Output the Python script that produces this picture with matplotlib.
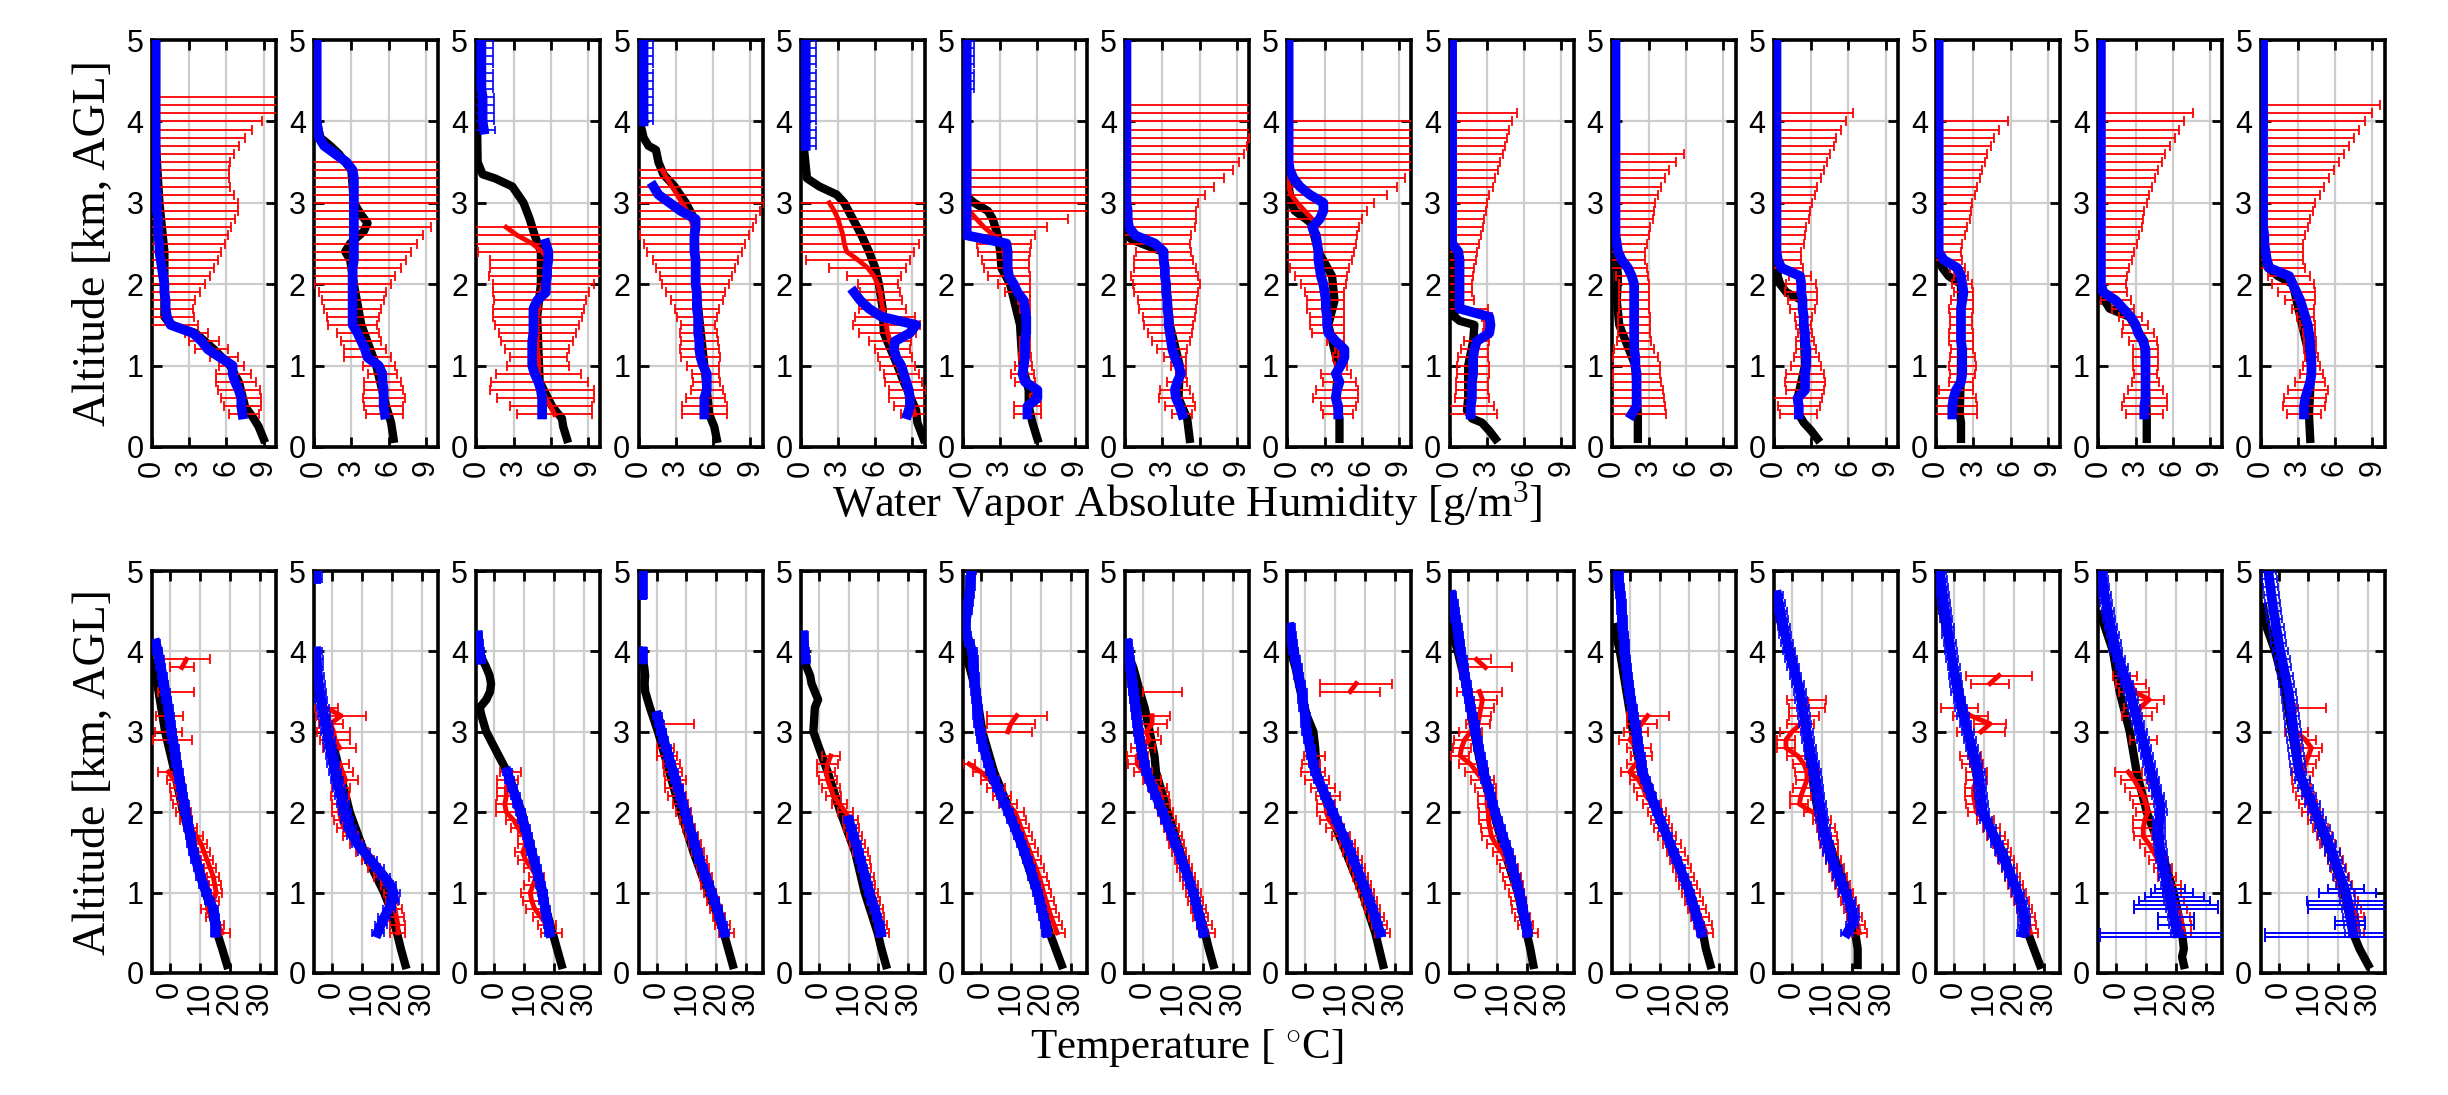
import numpy as np
import matplotlib
matplotlib.use("Agg")
import matplotlib.pyplot as plt

plt.rcParams["font.family"] = ["Liberation Sans", "DejaVu Sans"]
plt.rcParams["mathtext.fontset"] = "custom"
plt.rcParams["mathtext.rm"] = "Liberation Serif"
plt.rcParams["mathtext.it"] = "Liberation Serif:italic"


def nums(s):
    return np.array([float(v) for v in s.split()])


# ---------------- water vapour (top row) ----------------
WV_Z = "0.4 0.5 0.6 0.7 0.8 0.9 1.0 1.1 1.2 1.3 1.4 1.5 1.6 1.7 1.8 1.9 2.0 2.1 2.2 2.3 2.4 2.5 2.6 2.7 2.8 2.9 3.0 3.1 3.2 3.3 3.4 3.5 3.6 3.7 3.8 3.9 4.0 4.1 4.2 4.3 4.4 4.5 4.6 4.7 4.8 4.9 5.0"

# retrieval mean (red), from 0.4 km upward
WV_RED_MEAN = [
    "7.4 7.3 7.2 7.0 6.8 6.6 6.4 5.8 4.8 4.2 3.6 1.8 1.2 1.1 1.0 1.0 1.0 0.9 0.8 0.8 0.7 0.6 0.6 0.5 0.5 0.5 0.4 0.4 0.4 0.3 0.3 0.3 0.3 0.3 0.3 0.3 0.3 0.3 0.3 0.3",
    "5.7 5.6 5.6 5.6 5.5 5.5 5.2 4.3 4.1 3.8 3.5 3.1 3.1 3.1 3.1 3.1 3.1 3.1 3.1 3.2 3.2 3.2 3.2 3.2 3.2 3.2 3.2 3.2 3.2 3.2 3.1 2.6",
    "6.3 6.0 5.6 5.3 5.1 5.0 5.0 5.0 4.9 4.9 4.9 4.9 4.9 5.0 5.1 5.2 5.4 5.6 5.8 5.8 5.3 4.5 3.3 2.4",
    "5.3 5.3 5.4 5.5 5.5 5.4 5.2 5.0 4.9 4.9 4.8 4.8 4.7 4.7 4.7 4.6 4.6 4.6 4.6 4.6 4.5 4.5 4.5 4.4 4.2 3.9 3.5 3.1 2.7 2.3 1.9",
    "9.2 9.0 8.8 8.6 8.3 8.1 7.8 7.6 7.4 7.2 7.0 6.9 6.8 6.6 6.5 6.4 6.2 5.9 5.4 4.6 3.7 3.5 3.4 3.2 3.0 2.7 2.3",
    "5.2 5.2 5.8 5.8 5.0 4.8 4.9 5.0 5.0 5.0 5.1 5.1 5.1 5.0 4.9 4.4 4.1 3.7 3.5 3.4 3.3 3.3 2.5 1.7 1.1 0.5 0.1 0.1 0.1 0.1 0.1",
    "4.6 4.4 4.1 4.0 4.2 4.5 4.3 4.0 3.8 3.7 3.6 3.5 3.5 3.4 3.4 3.3 3.3 3.2 3.2 3.1 3.1 2.4 0.8 0.3 0.2 0.2 0.1 0.1 0.1 0.1 0.1 0.1 0.1 0.1 0.1 0.1 0.1 0.1 0.1",
    "4.1 4.1 3.9 4.0 4.2 3.9 4.3 4.2 4.2 3.9 3.3 3.2 3.2 3.1 3.1 3.0 2.9 2.7 2.6 2.5 2.5 2.4 2.3 2.3 2.0 1.4 0.8 0.3 0.1 0.1 0.1 0.1 0.1 0.1 0.1 0.1 0.1",
    "1.7 1.7 1.8 1.8 1.8 1.9 1.9 1.9 2.0 2.2 3.0 3.1 3.0 0.9 0.8 0.8 0.8 0.8 0.8 0.8 0.7 0.3 0.2 0.2 0.2 0.2 0.2 0.2 0.2 0.2 0.2 0.2 0.2 0.2 0.2 0.2 0.2 0.2",
    "1.6 2.0 2.0 2.0 2.0 2.0 1.9 1.9 1.8 1.8 1.8 1.8 1.8 1.8 1.8 1.8 1.8 1.6 1.3 0.8 0.5 0.4 0.3 0.3 0.3 0.3 0.3 0.3 0.3 0.3 0.3 0.3 0.3",
    "2.0 2.0 1.9 2.5 2.5 2.5 2.6 2.6 2.6 2.5 2.5 2.4 2.4 2.3 2.3 2.2 2.2 2.1 0.6 0.3 0.2 0.2 0.2 0.2 0.2 0.2 0.2 0.2 0.2 0.2 0.2 0.2 0.2 0.2 0.2 0.2 0.2 0.2",
    "1.3 1.3 1.4 1.6 2.0 2.1 2.1 2.1 2.1 2.0 2.0 2.0 2.0 2.0 2.1 2.2 2.1 2.0 1.7 0.4 0.2 0.2 0.2 0.2 0.2 0.2 0.2 0.2 0.2 0.2 0.2 0.2 0.2 0.2 0.2 0.2 0.2",
    "3.7 3.7 3.8 3.8 3.8 3.8 3.8 3.8 3.8 3.6 3.2 3.0 2.6 2.0 1.4 0.3 0.2 0.2 0.2 0.2 0.2 0.2 0.2 0.2 0.2 0.2 0.2 0.2 0.2 0.2 0.2 0.2 0.2 0.2 0.2 0.2 0.2 0.2",
    "3.5 3.5 3.6 3.8 4.0 4.1 4.1 4.1 4.0 4.0 3.9 3.8 3.6 3.4 3.2 2.9 2.6 2.3 0.7 0.5 0.4 0.3 0.3 0.2 0.2 0.2 0.2 0.2 0.2 0.2 0.2 0.2 0.2 0.2 0.2 0.2 0.2 0.2 0.2",
]

# right end of the red error bars (mean + error)
WV_RED_HIGH = [
    "8.6 8.8 8.8 8.7 8.4 8.0 7.4 6.9 6.1 5.4 4.5 3.7 3.4 3.3 3.5 3.9 4.3 4.7 5.0 5.3 5.6 5.9 6.1 6.4 6.7 6.9 6.9 6.6 6.3 6.2 6.2 6.3 6.6 7.0 7.5 8.1 8.9 10.5 10.5 10.5",
    "7.2 7.2 7.3 7.2 7.0 6.7 6.5 6.2 5.8 5.4 5.2 5.1 5.2 5.4 5.6 5.8 6.2 6.5 7.0 7.4 7.8 8.3 8.8 9.4 10.5 10.5 10.5 10.5 10.5 10.5 10.5 10.5",
    "9.3 9.3 9.5 9.5 9.0 8.4 7.5 7.3 7.5 7.8 8.0 8.3 8.5 8.7 8.8 9.1 9.5 10.2 10.5 10.5 10.5 10.5 10.5 10.5",
    "7.1 7.1 7.0 6.8 6.6 6.5 6.5 6.6 6.5 6.4 6.3 6.2 6.3 6.5 6.8 7.0 7.3 7.5 7.8 8.0 8.3 8.6 8.9 9.2 9.5 9.8 10.1 10.5 10.5 10.5 10.5",
    "10.3 10.5 10.5 10.1 9.8 9.5 9.2 9.0 8.8 8.9 9.3 9.6 9.2 8.5 8.2 8.0 7.8 8.1 8.5 8.8 9.1 9.5 10.5 10.5 10.5 10.5 10.5",
    "6.3 6.3 6.2 6.0 5.8 5.7 5.6 5.5 5.4 5.4 5.3 5.3 5.3 5.4 5.4 5.4 5.4 5.4 5.3 5.3 5.4 5.5 5.8 6.8 8.5 10.5 10.5 10.5 10.5 10.5 10.5",
    "5.4 5.6 5.5 5.2 5.0 4.9 4.9 4.9 5.0 5.2 5.4 5.5 5.6 5.7 5.8 5.9 6.0 5.9 5.7 5.5 5.3 5.2 5.3 5.6 5.7 5.7 5.9 6.4 7.2 8.0 8.7 9.2 9.6 9.8 10.0 10.5 10.5 10.5 10.5",
    "5.3 5.5 5.7 5.7 5.5 5.1 4.8 4.7 4.6 4.6 4.6 4.6 4.6 4.6 4.6 4.6 4.7 4.8 5.0 5.2 5.4 5.5 5.6 5.8 6.0 6.4 7.0 8.0 8.8 9.5 10.1 10.5 10.5 10.5 10.5 10.5 10.5",
    "3.8 3.6 3.2 3.1 3.1 3.2 3.2 3.1 3.1 3.2 3.3 3.4 3.4 3.1 2.0 1.8 1.8 1.9 2.0 2.1 2.2 2.4 2.5 2.7 2.8 2.9 3.0 3.2 3.5 3.7 3.9 4.1 4.3 4.5 4.6 4.8 5.0 5.4",
    "4.4 4.3 4.2 4.1 4.0 3.9 3.9 3.7 3.4 3.2 3.1 3.1 3.1 3.0 3.0 3.0 3.0 2.9 2.8 2.7 2.7 2.8 3.0 3.1 3.3 3.4 3.5 3.7 4.0 4.3 4.6 5.2 5.8",
    "3.5 3.7 3.9 4.0 4.1 4.0 3.8 3.6 3.4 3.2 3.1 3.0 3.1 3.3 3.5 3.5 3.4 3.0 2.3 2.2 2.2 2.4 2.5 2.6 2.8 2.9 3.1 3.3 3.5 3.8 4.0 4.3 4.5 4.8 5.0 5.4 5.8 6.4",
    "3.3 3.3 3.2 3.0 3.0 3.1 3.2 3.1 3.0 3.0 3.0 2.9 2.9 3.0 3.0 3.0 2.9 2.6 2.3 2.1 2.0 2.1 2.3 2.5 2.7 2.8 2.9 3.1 3.3 3.5 3.7 3.9 4.1 4.4 4.7 5.1 5.8",
    "5.2 5.5 5.5 5.2 4.9 4.7 4.8 4.8 4.8 4.7 4.5 4.0 3.5 2.9 2.6 2.3 2.2 2.3 2.5 2.7 2.9 3.1 3.3 3.5 3.6 3.7 3.9 4.1 4.3 4.6 4.8 5.1 5.4 5.8 6.2 6.5 6.9 7.6",
    "4.9 5.2 5.3 5.4 5.2 5.0 4.8 4.6 4.5 4.5 4.4 4.4 4.3 4.3 4.4 4.4 4.3 4.0 3.6 3.4 3.4 3.4 3.6 3.8 4.0 4.2 4.4 4.8 5.1 5.5 5.9 6.3 6.7 7.1 7.5 7.9 8.4 9.0 9.6",
]

# second retrieval (blue), 0.4 .. 5.0 km
WV_BLUE = [
    "7.3 7.2 7.2 7.0 6.7 6.5 6.5 5.5 4.5 4.0 3.3 1.5 1.2 1.1 1.1 1.0 1.0 0.9 0.8 0.7 0.6 0.6 0.5 0.5 0.5 0.4 0.4 0.4 0.3 0.3 0.3 0.3 0.3 0.3 0.3 0.3 0.3 0.3 0.3 0.3 0.3 0.3 0.3 0.3 0.3 0.3 0.3",
    "5.7 5.6 5.6 5.6 5.5 5.5 5.2 4.3 4.1 3.8 3.5 3.1 3.1 3.1 3.1 3.1 3.1 3.1 3.1 3.2 3.2 3.2 3.2 3.2 3.2 3.2 3.2 3.2 3.2 3.2 3.1 2.6 1.7 0.8 0.4 0.3 0.2 0.2 0.2 0.2 0.2 0.2 0.2 0.2 0.2 0.2 0.2",
    "5.3 5.3 5.3 5.2 5.0 4.7 4.5 4.5 4.5 4.5 4.6 4.6 4.6 4.6 4.9 5.6 5.6 5.7 5.7 5.8 5.8 5.6 nan nan nan nan nan nan nan nan nan nan nan nan nan 0.6 0.5 0.5 0.5 0.5 0.4 0.4 0.4 0.4 0.4 0.4 0.4",
    "5.3 5.3 5.3 5.5 5.5 5.5 5.2 5.0 4.9 4.9 4.8 4.8 4.8 4.7 4.7 4.7 4.6 4.6 4.6 4.6 4.5 4.5 4.5 4.6 4.6 3.4 2.5 1.6 1.2 nan nan nan nan nan nan nan 0.4 0.4 0.4 0.4 0.4 0.4 0.4 0.4 0.4 0.4 0.4",
    "8.6 8.8 8.8 8.7 8.5 8.3 8.1 7.7 7.5 7.6 8.8 9.3 6.5 5.5 4.8 4.3 nan nan nan nan nan nan nan nan nan nan nan nan nan nan nan nan nan 0.4 0.4 0.4 0.4 0.4 0.4 0.4 0.4 0.4 0.4 0.4 0.4 0.4 0.4",
    "5.2 5.2 6.0 6.0 5.0 4.8 4.9 5.0 5.0 5.0 5.1 5.1 5.1 5.0 4.9 4.4 4.1 3.7 3.6 3.6 3.6 3.5 0.3 0.3 0.3 0.3 0.3 0.3 0.3 0.3 0.3 0.3 0.3 0.3 0.3 0.3 0.3 0.3 0.3 0.3 0.3 0.3 0.3 0.3 0.3 0.3 0.3",
    "4.6 4.4 4.1 4.0 4.2 4.5 4.3 4.0 3.8 3.7 3.6 3.5 3.5 3.4 3.4 3.3 3.3 3.2 3.2 3.1 3.1 2.4 0.8 0.3 0.2 0.2 0.1 0.1 0.1 0.1 0.1 0.1 0.1 0.1 0.1 0.1 0.1 0.1 0.1 0.1 0.1 0.1 0.1 0.1 0.1 0.1 0.1",
    "4.1 4.1 3.9 4.0 4.2 3.9 4.3 4.6 4.6 3.9 3.3 3.2 3.2 3.1 3.1 3.0 2.9 2.7 2.6 2.5 2.5 2.4 2.3 2.0 2.6 2.9 2.9 1.8 1.0 0.5 0.2 0.1 0.1 0.1 0.1 0.1 0.1 0.1 0.1 0.1 0.1 0.1 0.1 0.1 0.1 0.1 0.1",
    "1.7 1.7 1.8 1.8 1.8 1.9 1.9 1.9 2.0 2.2 3.2 3.3 3.2 0.8 0.8 0.8 0.8 0.8 0.8 0.8 0.7 0.2 0.2 0.2 0.2 0.2 0.2 0.2 0.2 0.2 0.2 0.2 0.2 0.2 0.2 0.2 0.2 0.2 0.2 0.2 0.2 0.2 0.2 0.2 0.2 0.2 0.2",
    "1.6 2.0 2.0 2.0 2.0 2.0 1.9 1.9 1.8 1.8 1.8 1.8 1.8 1.8 1.8 1.8 1.8 1.6 1.3 0.8 0.5 0.4 0.3 0.3 0.3 0.3 0.3 0.3 0.3 0.3 0.3 0.3 0.3 0.3 0.3 0.3 0.3 0.3 0.3 0.3 0.3 0.3 0.3 0.3 0.3 0.3 0.3",
    "2.0 2.0 1.9 2.5 2.5 2.5 2.6 2.6 2.6 2.5 2.5 2.4 2.4 2.3 2.3 2.2 2.2 2.1 0.6 0.3 0.2 0.2 0.2 0.2 0.2 0.2 0.2 0.2 0.2 0.2 0.2 0.2 0.2 0.2 0.2 0.2 0.2 0.2 0.2 0.2 0.2 0.2 0.2 0.2 0.2 0.2 0.2",
    "1.3 1.3 1.4 1.6 2.0 2.1 2.1 2.1 2.1 2.0 2.0 2.0 2.0 2.0 2.1 2.2 2.1 2.0 1.7 0.6 0.2 0.2 0.2 0.2 0.2 0.2 0.2 0.2 0.2 0.2 0.2 0.2 0.2 0.2 0.2 0.2 0.2 0.2 0.2 0.2 0.2 0.2 0.2 0.2 0.2 0.2 0.2",
    "3.7 3.7 3.8 3.8 3.8 3.8 3.8 3.8 3.8 3.6 3.2 3.0 2.6 2.0 1.4 0.4 0.2 0.2 0.2 0.2 0.2 0.2 0.2 0.2 0.2 0.2 0.2 0.2 0.2 0.2 0.2 0.2 0.2 0.2 0.2 0.2 0.2 0.2 0.2 0.2 0.2 0.2 0.2 0.2 0.2 0.2 0.2",
    "3.5 3.5 3.6 3.8 4.0 4.1 4.1 4.1 4.0 4.0 3.9 3.8 3.6 3.4 3.2 2.9 2.6 2.3 0.7 0.5 0.4 0.3 0.3 0.2 0.2 0.2 0.2 0.2 0.2 0.2 0.2 0.2 0.2 0.2 0.2 0.2 0.2 0.2 0.2 0.2 0.2 0.2 0.2 0.2 0.2 0.2 0.2",
]
# blue error bars that show up near the top of some panels
WV_BLUE_TOP_FROM = [np.nan, np.nan, 3.9, 4.0, 3.7, 4.4, np.nan, np.nan, np.nan, np.nan, np.nan, np.nan, np.nan, np.nan]
WV_BLUE_TOP_ERR = [0, 0, 0.9, 0.8, 0.8, 0.6, 0, 0, 0, 0, 0, 0, 0, 0]

# in-situ profile (black)
WV_BLACK_Z = [
    [0.1, 0.25, 0.35, 0.5, 0.8, 1.0, 1.2, 1.4, 1.5, 1.6, 2.0, 2.4, 3.0, 4.0, 5.0],
    [0.1, 0.3, 0.5, 1.0, 1.5, 2.0, 2.3, 2.4, 2.5, 2.65, 2.75, 2.85, 3.0, 3.4, 3.6, 3.7, 3.8, 4.0, 5.0],
    [0.1, 0.25, 0.35, 0.5, 0.8, 1.2, 1.6, 2.0, 2.4, 2.6, 2.8, 3.0, 3.2, 3.3, 3.35, 3.5, 4.0, 5.0],
    [0.1, 0.25, 0.4, 1.0, 2.0, 2.8, 3.0, 3.2, 3.35, 3.5, 3.65, 3.7, 3.8, 4.0, 5.0],
    [0.1, 0.3, 0.45, 0.8, 1.0, 1.4, 1.7, 2.0, 2.2, 2.4, 2.6, 2.8, 3.0, 3.1, 3.2, 3.3, 3.6, 4.0, 5.0],
    [0.1, 0.3, 0.5, 0.7, 1.0, 1.5, 2.0, 2.2, 2.4, 2.6, 2.8, 2.9, 3.0, 3.1, 5.0],
    [0.1, 0.35, 0.6, 1.0, 1.5, 2.0, 2.4, 2.5, 2.55, 2.6, 3.0, 5.0],
    [0.1, 0.35, 0.6, 1.0, 1.5, 1.8, 2.1, 2.4, 2.75, 2.8, 2.9, 3.0, 3.2, 5.0],
    [0.1, 0.2, 0.3, 0.35, 0.45, 0.6, 1.0, 1.3, 1.5, 1.55, 1.6, 2.0, 2.4, 3.0, 5.0],
    [0.1, 0.4, 1.0, 1.5, 1.8, 2.1, 2.4, 3.0, 5.0],
    [0.1, 0.2, 0.3, 0.4, 0.6, 1.0, 1.8, 1.9, 2.0, 2.1, 2.5, 5.0],
    [0.1, 0.3, 0.4, 1.0, 2.0, 2.1, 2.2, 2.3, 2.5, 5.0],
    [0.1, 0.4, 1.3, 1.6, 1.7, 1.8, 1.9, 2.2, 5.0],
    [0.1, 0.4, 1.0, 2.0, 2.1, 2.2, 2.3, 2.5, 5.0],
]
WV_BLACK = [
    [9.0, 8.6, 8.2, 7.5, 7.0, 6.3, 5.0, 3.5, 1.5, 1.0, 1.0, 1.0, 0.6, 0.2, 0.1],
    [6.4, 6.2, 5.8, 5.0, 3.8, 3.2, 2.9, 2.5, 2.9, 4.0, 4.3, 3.8, 3.2, 3.0, 2.0, 1.3, 0.5, 0.2, 0.1],
    [7.3, 7.0, 6.9, 6.1, 5.1, 5.0, 4.9, 5.2, 5.2, 4.7, 4.3, 3.8, 2.9, 1.5, 0.5, 0.1, 0.05, 0.05],
    [6.3, 6.1, 5.7, 5.3, 4.6, 4.5, 3.8, 2.9, 2.0, 1.6, 1.4, 0.8, 0.4, 0.1, 0.05],
    [9.9, 9.4, 9.3, 8.3, 7.8, 6.7, 6.6, 6.3, 6.0, 5.5, 4.9, 4.2, 3.5, 2.9, 1.5, 0.5, 0.3, 0.1, 0.1],
    [6.0, 5.6, 5.3, 5.3, 4.8, 4.6, 3.8, 3.1, 3.0, 2.8, 2.4, 2.0, 0.9, 0.1, 0.05],
    [5.2, 5.0, 4.3, 4.4, 3.6, 3.3, 3.0, 1.3, 0.5, 0.2, 0.1, 0.05],
    [4.2, 4.2, 3.9, 4.1, 3.3, 3.8, 3.6, 2.5, 1.9, 1.5, 0.6, 0.3, 0.1, 0.05],
    [3.7, 3.2, 2.6, 1.8, 1.4, 1.5, 1.5, 1.9, 2.0, 0.8, 0.4, 0.3, 0.2, 0.1, 0.05],
    [2.1, 2.1, 1.9, 0.6, 0.4, 0.5, 0.3, 0.2, 0.1],
    [3.5, 3.0, 2.4, 2.0, 1.9, 2.5, 2.3, 1.0, 0.5, 0.3, 0.2, 0.1],
    [2.0, 2.0, 1.9, 2.0, 2.0, 1.0, 0.5, 0.2, 0.1, 0.05],
    [3.9, 3.9, 3.7, 2.5, 0.9, 0.5, 0.2, 0.1, 0.05],
    [4.0, 3.9, 4.1, 2.6, 1.4, 0.6, 0.4, 0.2, 0.05],
]

# ---------------- temperature (bottom row) ----------------
T_Z = "0.5 0.6 0.7 0.8 0.9 1.0 1.1 1.2 1.3 1.4 1.5 1.6 1.7 1.8 1.9 2.0 2.1 2.2 2.3 2.4 2.5 2.6 2.7 2.8 2.9 3.0 3.1 3.2 3.3 3.4 3.5 3.6 3.7 3.8 3.9 4.0 4.1 4.2 4.3 4.4 4.5 4.6 4.7 4.8 4.9 5.0"

T_RED_MEAN = [
    "17.5 16.0 14.0 12.5 14.5 15.5 15.0 14.5 13.5 12.5 11.5 10.5 9.0 7.0 5.5 4.5 3.5 3.0 2.5 1.5 -0.5 nan nan nan 1.0 -0.5 nan 0.0 nan nan 2.0 nan nan 4.0 5.5",
    "22 22 21.5 21 20 19.5 18.5 16 14 12 10 8 6 4 3 2.5 2.5 2.5 3.0 4.5 3.5 2.5 nan 2.5 1.0 0.5 -0.5 3.0 -2.0",
    "19 17.5 15.5 13.5 12.5 12 13 14 12.5 10.5 9.5 10.5 10 8 6.5 4 3.5 4 4 4.5 5.5",
    "23.5 22 21 20 19 18 17 16.5 15.5 15 14 13 12 11 10 9 8 7 6 6.5 5.5 5 3.5 3 nan nan 7.3",
    "21.5 21 20 19.5 18.5 18 17 16.5 15.5 15 14 13 12 11 10.5 9 7 5 4 3 2.5 3 4",
    "25.5 24.5 23.5 22.6 21.8 21.0 20.3 19.5 18.5 17.5 16.5 15.5 14.5 13.5 12.5 11.5 9 7 5 3 0 -4 nan nan nan 9 10 12",
    "21.5 20.5 19.3 18.5 17.5 17 16 15 14 13 12 11.3 10.5 9.5 8.5 7.5 6.5 6 5 3 0 -2 -2 0 2 1 3 3 nan nan 6.5",
    "25.8 24.8 23.7 22.6 21.6 20.6 19.6 18.6 17.5 16.3 15 14 12 10 8 7 7 7.5 6 4 2.5 2 3 nan nan nan nan nan nan nan 15 17",
    "21 19.5 18.5 17.5 17 16.5 15.5 15 14 13 11.5 9.5 8 7.5 7 7 6.5 6.5 6 5 3 1 -2.5 -2 -1 1 3.5 4 4.5 5 4 nan nan 6 3",
    "25.5 24.5 23.5 22.5 21.5 20.5 19.5 18.5 17.5 16.5 15.5 14 12.5 11 10 9 7.5 5.5 4.5 3 0 2 4 3 0 2 4 6",
    "22.5 22 21 20 19 18 17 16 15 14 13 12.5 12 11.5 10 7 2.5 3 4 5 5 4 2 -2 -2 0 3 4 5 5",
    "25.5 25 24.5 23.5 22.5 21.5 20.5 19.5 18.5 17.5 16.5 15.5 14 12.5 10.5 7.5 7 6.5 6.5 7.5 7.5 6 5.5 nan nan 9 12 5.5 1.7 nan nan 12 15",
    "22.5 22 21.5 20.5 19.5 18.5 18.5 17 15.5 14 12.5 11 9 9 9.5 10.5 10 9 7.5 6 4 nan nan nan 9 nan nan 7 8 11 6 5 3",
    "26 26.5 26 25 24 23 22 21 20 19 18 16.5 15.5 14 12.5 11 10 9 8 7.5 8 9 10 11 9 6 nan nan 11",
]
T_RED_ERR = [
    "2.5 2 2 2 2 2 2 2 2 2 2 2 2 2 2 2.5 2.5 2.5 2.5 2.5 3.5 nan nan nan 6.5 4.5 nan 4.5 nan nan 6.0 nan nan 4.0 8.0",
    "2.5 2.5 2.5 2.5 2 2 2 2 2 2 2 2 2.5 2.5 2.5 2.5 2.5 3 3 4 3.5 3 nan 5.5 5 5.5 4 8.5 4",
    "3.5 3 2.5 3 3 3 3 2.5 2.5 2.5 2.5 2.5 2 2.5 2.5 3.5 3 3 3 3.5 3.5",
    "2.5 2.5 2 2 2 2 2 2 2 2 2 2 2 2 2 2.5 2.5 3 3 3.5 3 3 3.5 3 nan nan 5.1",
    "2 2 2 2 2 2 2 2 2 2 2.5 2.5 2.5 2.5 2.5 2.5 2.5 2.5 3 3 3 3.5 3",
    "2.5 2.5 2.5 2.5 2.5 2.5 2.5 2.5 2.5 2.5 2.5 2.5 2.5 2.5 2.5 3 3 3 3 3 2.5 2 nan nan nan 8 8 10",
    "2.5 2.5 2.5 2.5 2.5 2.5 2.5 2.5 2.5 2.5 2.5 2.5 2.5 2.5 2.5 2.5 2.5 2.5 3 3 3 3 3.5 4 4 4 5 6 nan nan 6.5",
    "2.5 2.5 2.5 2.5 2.5 2.5 2.5 2.5 2.5 2.5 2.5 2.5 3 3 3 3 3 4 4 4 4 3 3.5 nan nan nan nan nan nan nan 10 12",
    "2.5 2.5 2.5 2.5 2.5 2.5 3 3 3 3 3 3 3 3 3 3 3 3 3.5 4 4 4 3 3 3.5 4 4 4 4.5 5 7.5 nan nan 9 5",
    "2.5 3 3 3 3 3 3 3 3 3 3 3 3 3 3 3 3 3 3 3 3 3 3.5 4 3.5 4 5 7",
    "2.5 2.5 2.5 2.5 2.5 2.5 2.5 2.5 2.5 2.5 2.5 3 3 3 3 3 3 3.5 3.5 3.5 4 3.5 3.5 3 3 4 4.5 5 6 6.5",
    "2.5 2.5 2.5 2.5 2.5 2.5 2.5 2.5 2.5 2.5 2.5 2.5 3 3 3 3 3 3 3 3.5 3.5 3.5 3.5 nan nan 8 5.5 6 6.2 nan nan 6.5 11",
    "2.5 3 3 3 3 3 3 3 3 3 3 3 3 3.5 4 4 4.5 4.5 4.5 4.5 4.5 nan nan nan 4.5 nan nan 5 5.5 5 5 5 4",
    "2.5 2.5 2.5 2.5 2.5 2.5 2.5 2.5 2.5 2.5 2.5 2.5 2.5 2.5 2.5 3 3 3 3 3 3.5 3.5 3.5 3.5 3.5 4 nan nan 5",
]

T_BLUE = [
    "15.3 15.3 15.0 14.5 13.3 12.1 11.2 10.3 9.5 8.7 7.9 7.3 6.8 6.3 5.8 5.3 4.8 4.3 3.8 3.3 2.8 2.3 1.9 1.5 1.0 0.6 0.2 -0.2 -0.6 -1.0 -1.5 -2.0 -2.5 -3.0 -3.5 -4.0 -4.7 nan nan nan nan nan nan nan nan nan",
    "15.2 16.3 17.5 19.0 20.4 20.6 19.5 17.4 15.2 13.0 10.8 8.6 7.0 5.9 5.1 4.3 3.6 2.9 2.2 1.5 0.9 0.4 -0.2 -0.7 -1.2 -1.7 -2.2 -2.8 -3.2 -3.6 -4.0 -4.5 -4.7 -5.0 -5.1 -5.3 nan nan nan nan nan nan nan nan -5.3 -5.3",
    "18.6 18.0 17.5 17.0 16.6 16.2 15.5 14.8 14.1 13.3 12.5 11.8 11.1 10.3 9.5 8.7 7.9 7.0 6.1 5.2 4.3 nan nan nan nan nan nan nan nan nan nan nan nan nan -4.5 -5.0 -5.3 -5.5 nan nan nan nan nan nan nan nan",
    "22.7 22.0 21.2 20.3 19.4 18.5 17.5 16.5 15.5 14.5 13.6 12.8 12.0 11.2 10.4 9.6 8.8 8.0 7.2 6.4 5.6 4.8 4.0 3.2 2.4 1.7 1.0 0.3 nan nan nan nan nan nan -4.8 -4.8 nan nan nan nan nan nan -4.8 -4.8 -4.8 -4.8",
    "20.8 20.2 19.5 18.7 17.8 17.0 16.2 15.5 14.8 14.0 13.3 12.5 11.7 10.9 10.1 nan nan nan nan nan nan nan nan nan nan nan nan nan nan nan nan nan nan nan -4.5 -4.8 -5.0 -5.2 nan nan nan nan nan nan nan nan",
    "22.0 21.6 21.0 20.3 19.7 19.0 18.2 17.3 16.5 15.6 14.7 13.6 12.5 11.4 10.3 9.2 8.0 6.8 5.6 4.4 3.3 2.5 1.7 1.0 0.3 -0.3 -0.7 -1.0 -1.3 -1.5 -1.7 -2.0 -2.2 -2.4 -2.6 -2.9 -3.8 -4.8 -5.3 -5.0 -4.5 -4.2 -3.9 -3.6 -3.4 -3.2",
    "20.1 19.5 18.9 18.2 17.5 16.8 15.9 15.0 14.0 13.0 12.0 10.9 9.8 8.7 7.6 6.5 5.4 4.3 3.2 2.1 1.1 0.5 -0.1 -0.6 -1.1 -1.6 -1.9 -2.3 -2.6 -3.0 -3.3 -3.6 -4.0 -4.3 -4.6 -4.9 -5.3 nan nan nan nan nan nan nan nan nan",
    "25.0 24.2 23.4 22.5 21.5 20.6 19.5 18.4 17.3 16.2 15.2 14.0 12.8 11.6 10.4 9.2 8.0 6.8 5.6 4.4 3.3 2.7 2.1 1.6 1.0 0.5 0.2 -0.1 -0.5 -0.8 -1.1 -1.6 -2.2 -2.7 -3.3 -3.8 -4.3 -4.7 -5.1 nan nan nan nan nan nan nan",
    "20.1 19.6 19.1 18.5 18.0 17.4 16.6 15.9 15.1 14.4 13.6 12.7 11.8 10.9 10.1 9.2 8.4 7.7 6.9 6.1 5.4 4.9 4.3 3.8 3.2 2.7 2.2 1.6 1.1 0.5 0.0 -0.4 -0.9 -1.3 -1.8 -2.2 -2.6 -3.0 -3.4 -3.9 -4.3 -4.8 -5.3 nan nan nan",
    "23.9 23.2 22.4 21.6 20.8 20.1 19.0 17.9 16.9 15.8 14.7 13.6 12.5 11.4 10.3 9.2 8.2 7.2 6.3 5.3 4.3 3.9 3.5 3.0 2.6 2.2 1.8 1.3 0.9 0.4 0.0 -0.3 -0.7 -1.0 -1.3 -1.6 -1.8 -2.0 -2.3 -2.5 -2.7 -2.9 -3.1 -3.4 -3.6 -3.8",
    "18.5 20.1 20.6 20.0 19.0 17.9 16.8 15.7 14.6 13.5 12.5 11.8 11.1 10.6 10.2 9.8 9.4 8.9 8.5 8.0 7.6 7.1 6.5 6.0 5.4 4.9 4.5 4.0 3.6 3.1 2.7 2.0 1.2 0.5 -0.3 -1.1 -1.6 -2.2 -2.7 -3.3 -3.8 -4.4 -4.9 nan nan nan",
    "23.0 23.5 23.5 23.0 22.3 21.3 20.2 19.1 18.0 16.8 15.7 14.5 13.3 12.1 10.8 9.6 9.3 9.0 8.8 8.5 8.2 7.4 6.7 6.0 5.2 4.5 3.8 3.1 2.4 1.8 1.1 0.7 0.2 -0.2 -0.7 -1.1 -1.5 -1.9 -2.2 -2.6 -3.0 -3.4 -3.7 -4.1 -4.4 -4.8",
    "20.3 19.7 19.2 18.6 18.1 17.5 16.9 16.4 15.8 15.3 14.8 14.5 14.3 14.2 14.4 14.8 14.7 13.9 13.1 12.4 11.6 10.9 10.2 9.6 8.8 8.1 7.3 6.6 5.9 5.2 4.5 3.6 2.7 1.8 0.9 0.0 -0.6 -1.2 -1.8 -2.4 -2.9 -3.4 -3.9 -4.3 -4.7 -5.0",
    "24.9 24.5 24.0 23.6 23.1 22.6 21.7 20.8 19.8 18.9 18.0 16.9 15.8 14.7 13.5 12.4 11.3 10.2 9.0 7.9 6.8 6.5 6.1 5.8 5.4 5.1 4.8 4.4 4.1 3.7 3.4 2.8 2.3 1.7 1.2 0.6 0.1 -0.3 -0.8 -1.2 -1.7 -2.0 -2.4 -2.7 -3.1 -3.4",
]
T_BLUE_ERR = [1.5, 2.0, 1.5, 1.5, 1.5, 1.5, 1.5, 1.5, 1.5, 1.5, 2.0, 2.0, 2.0, 2.5]

# very wide blue error bars near the ground in the last two panels
T_BIG_PANEL = [12, 13]
T_BIG_Z = [[0.45, 0.5, 0.6, 0.7, 0.8, 0.85, 0.9, 0.95, 1.0, 1.05],
           [0.45, 0.5, 0.6, 0.65, 0.8, 0.85, 0.9, 1.0, 1.05]]
T_BIG_C = [[20.5, 20.5, 20, 20, 20, 20, 19.5, 19.5, 18.5, 18],
           [25, 25, 24, 24, 24, 24, 23.5, 23, 22.5]]
T_BIG_ERR = [[26, 26, 6, 6, 14, 14, 12, 10, 7, 5],
             [29.5, 29.5, 5, 5, 14, 14, 14, 9.5, 6]]

T_BLACK_Z = [
    [0.1, 0.3, 0.5, 1.0, 1.5, 2.0, 2.5, 3.0, 3.5, 3.85],
    [0.1, 0.3, 0.5, 0.8, 1.0, 1.5, 2.0, 2.5, 3.0, 3.5, 3.6],
    [0.1, 0.3, 0.5, 1.0, 1.5, 2.0, 2.5, 3.0, 3.2, 3.3, 3.4, 3.5, 3.6, 3.7, 3.8, 3.9, 4.0, 4.1],
    [0.1, 0.3, 0.5, 0.7, 1.0, 1.5, 2.0, 2.5, 3.0, 3.3, 3.5, 3.6, 3.7, 3.8, 3.9, 4.0],
    [0.1, 0.3, 0.5, 1.0, 1.5, 2.0, 2.5, 3.0, 3.3, 3.4, 3.5, 3.6, 3.7, 3.8, 3.9, 4.0],
    [0.1, 0.3, 0.5, 1.0, 1.5, 2.0, 2.5, 3.0, 3.5, 3.8, 4.0],
    [0.1, 0.3, 0.5, 1.0, 1.5, 2.0, 2.5, 2.7, 3.0, 3.3, 3.5, 3.8, 4.0],
    [0.1, 0.3, 0.5, 1.0, 1.5, 2.0, 2.5, 2.8, 3.0, 3.2, 3.5, 3.8, 4.0, 4.1],
    [0.1, 0.3, 0.5, 1.0, 1.5, 2.0, 2.5, 3.0, 3.5, 4.0, 4.3],
    [0.1, 0.3, 0.5, 1.0, 1.5, 2.0, 2.5, 3.0, 3.5, 4.0, 4.3],
    [0.1, 0.3, 0.5, 1.0, 1.5, 2.0, 2.5, 3.0, 3.5, 4.0, 4.3, 4.5],
    [0.1, 0.5, 1.0, 1.5, 2.0, 2.5, 3.0, 3.5, 4.0, 4.5, 4.7],
    [0.1, 0.2, 0.3, 0.5, 1.0, 1.5, 2.0, 2.5, 3.0, 3.5, 4.0, 4.4, 4.45],
    [0.1, 0.3, 0.5, 1.0, 1.5, 2.0, 2.5, 3.0, 3.5, 4.0, 4.3, 4.55],
]
T_BLACK = [
    [19.1, 17.5, 15.8, 12.0, 8.2, 4.4, 1.6, -1.6, -3.8, -5.5],
    [24.5, 23.0, 21.7, 19.5, 17.4, 10.8, 5.9, 2.6, -0.7, -5.0, -5.6],
    [22.5, 21.0, 19.5, 15.7, 12.5, 9.2, 4.3, -2.7, -4.3, -4.9, -2.7, -1.4, -1.1, -1.6, -2.7, -4.0, -4.9, -5.5],
    [25.5, 24.0, 22.5, 20.6, 17.3, 12.4, 8.1, 4.3, 0.5, -2.2, -3.8, -4.0, -3.8, -4.1, -4.6, -5.5],
    [22.5, 21.0, 19.7, 15.4, 12.2, 7.3, 3.0, -1.8, -1.3, -0.2, -1.3, -2.4, -2.9, -4.0, -4.7, -5.3],
    [27.0, 25.0, 23.0, 18.7, 14.3, 9.9, 4.4, 0.5, -1.6, -3.8, -5.5],
    [23.5, 22.0, 20.7, 16.8, 12.5, 8.2, 4.3, 3.8, 2.2, 0.5, -1.1, -3.3, -5.4],
    [26.0, 24.7, 23.4, 19.0, 13.6, 8.2, 3.8, 3.3, 2.7, 0.5, -1.6, -3.3, -4.9, -5.5],
    [22.0, 21.0, 19.8, 16.8, 12.5, 8.7, 4.9, 2.2, 0.0, -3.3, -5.4],
    [27.0, 25.5, 24.5, 20.1, 14.7, 9.2, 3.8, 1.1, -1.1, -3.3, -5.1],
    [22.0, 22.0, 21.2, 18.5, 13.6, 8.7, 6.5, 4.9, 2.7, -0.5, -3.3, -4.9],
    [28.7, 24.7, 21.3, 16.3, 9.6, 7.3, 4.5, 1.7, -1.1, -3.9, -5.3],
    [22.6, 22.0, 22.6, 22.0, 19.2, 15.3, 10.2, 6.8, 4.5, 1.1, -1.1, -4.7, -5.5],
    [30.0, 27.1, 24.9, 22.0, 17.5, 11.9, 6.8, 4.5, 2.3, -1.1, -4.0, -5.1],
]

# ---------------- figure ----------------
W, H = 2448, 1095
LEFT0, PITCH, AXW = 152, 162.2, 124
ROW_TOP = (40, 447)
ROW_BOT = (571, 973)
SERIF = "Liberation Serif"

fig = plt.figure(figsize=(W / 100, H / 100), dpi=100)


def panel(i, row):
    top, bottom = row
    return fig.add_axes([(LEFT0 + i * PITCH) / W, 1 - bottom / H, AXW / W, (bottom - top) / H])


def style(ax, xlim, xticks, xpad):
    ax.set_xlim(*xlim)
    ax.set_ylim(0, 5)
    ax.set_xticks(xticks)
    ax.set_yticks(range(6))
    ax.grid(True, color="#cdcdcd", lw=1.6)
    ax.set_axisbelow(True)
    ax.tick_params(direction="in", top=True, right=True, length=7, width=2,
                   labelsize=22, pad=6)
    ax.tick_params(axis="x", labelrotation=90, pad=xpad)
    for sp in ax.spines.values():
        sp.set_linewidth(2.6)


def bars(ax, x, z, err, color, lw, cap, zo):
    ax.errorbar(x, z, xerr=np.abs(err), fmt="none", ecolor=color, elinewidth=lw,
                capsize=cap, capthick=lw, zorder=zo)


wv_z = nums(WV_Z)
top_axes = []
for i in range(14):
    ax = panel(i, ROW_TOP)
    top_axes.append(ax)
    style(ax, (0, 10), [0, 3, 6, 9], 9)
    ax.plot(WV_BLACK[i], WV_BLACK_Z[i], color="k", lw=6, zorder=2)
    mean = nums(WV_RED_MEAN[i])
    high = nums(WV_RED_HIGH[i])
    n = min(len(mean), len(high))
    bars(ax, mean[:n], wv_z[:n], high[:n] - mean[:n], "red", 1.3, 3.5, 3)
    ax.plot(mean[:n], wv_z[:n], color="red", lw=3.5, zorder=3.5)
    blue = nums(WV_BLUE[i])
    zb = wv_z[:len(blue)]
    blue = blue[:len(zb)]
    if not np.isnan(WV_BLUE_TOP_FROM[i]):
        sel = (zb >= WV_BLUE_TOP_FROM[i] - 1e-6) & ~np.isnan(blue)
        bars(ax, blue[sel], zb[sel], np.full(sel.sum(), WV_BLUE_TOP_ERR[i]), "blue", 1.2, 3, 4)
    ax.plot(blue, zb, color="blue", lw=7, zorder=4.5)

t_z = nums(T_Z)
bot_axes = []
for i in range(14):
    ax = panel(i, ROW_BOT)
    bot_axes.append(ax)
    style(ax, (-6, 35.5), [0, 10, 20, 30], 6)
    ax.plot(T_BLACK[i], T_BLACK_Z[i], color="k", lw=6, zorder=2)
    mean = nums(T_RED_MEAN[i])
    err = nums(T_RED_ERR[i])
    n = min(len(mean), len(err))
    bars(ax, mean[:n], t_z[:n], err[:n], "red", 1.3, 3.5, 3)
    ax.plot(mean[:n], t_z[:n], color="red", lw=3.5, zorder=3.5)
    blue = nums(T_BLUE[i])
    zb = t_z[:len(blue)]
    blue = blue[:len(zb)]
    ok = ~np.isnan(blue)
    bars(ax, blue[ok], zb[ok], np.full(ok.sum(), T_BLUE_ERR[i]), "blue", 1.2, 3, 4)
    if i in T_BIG_PANEL:
        k = T_BIG_PANEL.index(i)
        bars(ax, np.array(T_BIG_C[k]), np.array(T_BIG_Z[k]), np.array(T_BIG_ERR[k]), "blue", 1.4, 3.5, 4)
    ax.plot(blue, zb, color="blue", lw=7, zorder=4.5)

top_axes[0].set_ylabel("Altitude [km, AGL]", family=SERIF, fontsize=33, labelpad=8)
bot_axes[0].set_ylabel("Altitude [km, AGL]", family=SERIF, fontsize=33, labelpad=8)
top_axes[6].set_xlabel("Water Vapor Absolute Humidity [g/m$^{3}$]", family=SERIF, fontsize=32, labelpad=2)
bot_axes[6].set_xlabel("Temperature [ $^{\\circ}$C]", family=SERIF, fontsize=31, labelpad=8)

fig.savefig("out.png", dpi=100)
